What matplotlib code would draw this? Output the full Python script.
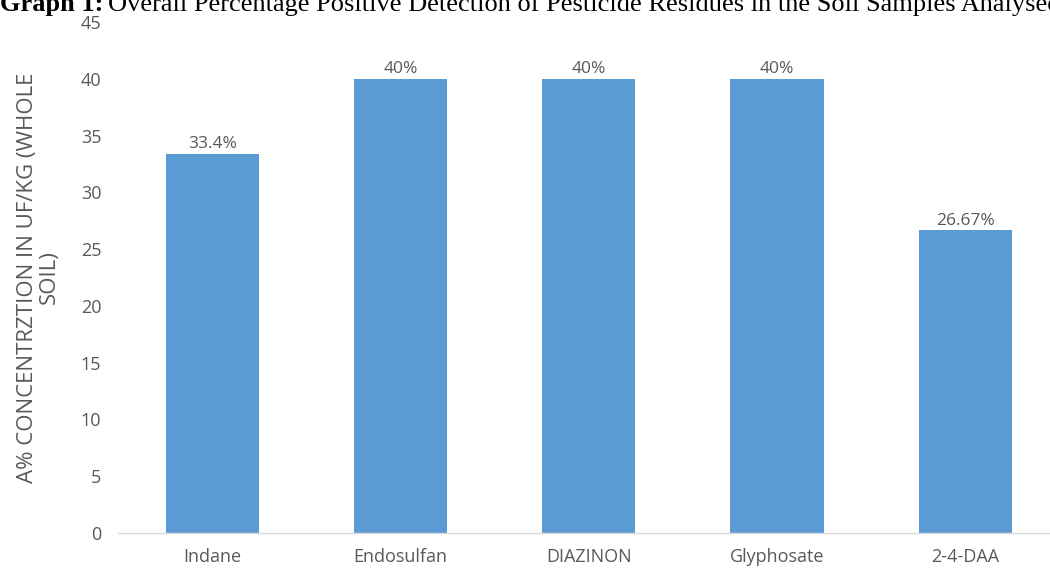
import matplotlib.pyplot as plt
import numpy as np

# ─── Data ──────────────────────────────────────────────────────────────────────
pesticides  = ["Indane", "Endosulfan", "DIAZINON", "Glyphosate", "2-4-DAA"]
detection   = [33.4, 40, 40, 40, 26.67]
value_text  = ["33.4%", "40%", "40%", "40%", "26.67%"]
y_ticks     = np.arange(0, 50, 5)

# ─── Figure ────────────────────────────────────────────────────────────────────
fig = plt.figure(figsize=(10.5, 5.74), dpi=100)
ax = fig.add_axes([0.1124, 0.0714, 0.8965, 0.8903])

grey = "#595959"
ui_font = "Open Sans"

x = np.arange(len(pesticides))
bars = ax.bar(x, detection, width=0.495, color="#5B9BD5", zorder=2)

for bar, txt in zip(bars, value_text):
    ax.annotate(txt, xy=(bar.get_x() + bar.get_width() / 2, bar.get_height()),
                xytext=(0, 1), textcoords="offset points",
                ha="center", va="bottom", fontsize=12.5, color=grey,
                family=ui_font)

ax.set_xlim(-0.5, len(pesticides) - 0.5)
ax.set_ylim(0, 45)
ax.set_yticks(y_ticks)
ax.set_xticks(x)
ax.set_xticklabels(pesticides)

for lbl in ax.get_xticklabels() + ax.get_yticklabels():
    lbl.set_family(ui_font)
    lbl.set_fontsize(13)
    lbl.set_color(grey)

ax.tick_params(axis="both", length=0)
ax.tick_params(axis="y", pad=12)
ax.tick_params(axis="x", pad=11)

for side in ("top", "right", "left"):
    ax.spines[side].set_visible(False)
ax.spines["bottom"].set_color("#D9D9D9")
ax.spines["bottom"].set_linewidth(1.0)

ax.set_ylabel("A% CONCENTRZTION IN UF/KG (WHOLE\nSOIL)", family=ui_font,
              fontsize=16, color=grey, linespacing=1.05, va="center")
ax.yaxis.set_label_coords(-0.085, 0.5)

# caption above the chart, partly cut off at the top edge
cap_y = 1 - 11 / 574
cap = fig.text(0.0, cap_y, "Graph 1:", family="Liberation Serif",
               weight="bold", fontsize=19, ha="left", va="baseline")
fig.canvas.draw()
bb = cap.get_window_extent()
fig.text(bb.x1 / fig.bbox.width + 0.004, cap_y,
         "Overall Percentage Positive Detection of Pesticide Residues "
         "in the Soil Samples Analysed",
         family="Liberation Serif", fontsize=19, ha="left", va="baseline")

fig.savefig("out.png", dpi=100)
